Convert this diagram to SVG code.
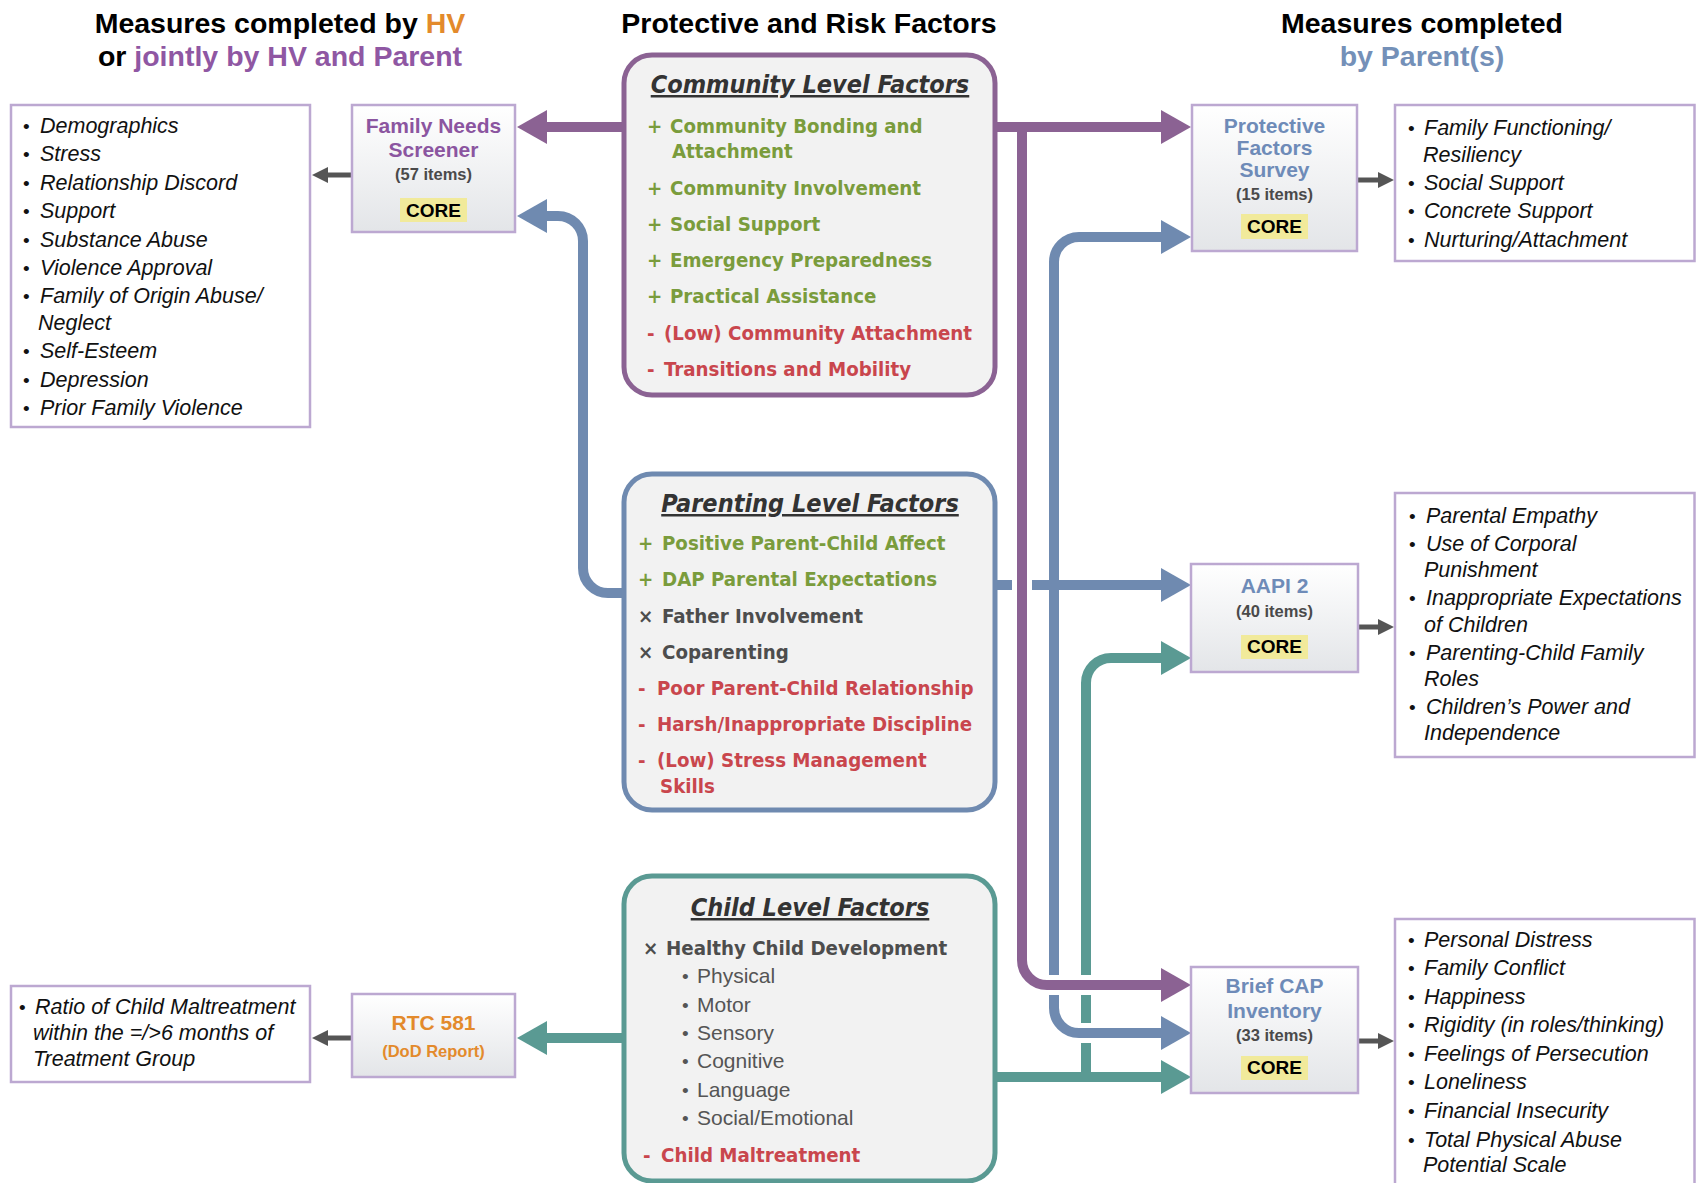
<svg xmlns="http://www.w3.org/2000/svg" width="1696" height="1183" viewBox="0 0 1696 1183">
<defs>
<linearGradient id="mgrad" x1="0" y1="0" x2="0" y2="1">
<stop offset="0" stop-color="#ffffff"/>
<stop offset="1" stop-color="#e3e5e8"/>
</linearGradient>
<marker id="ah-p" markerUnits="userSpaceOnUse" markerWidth="30" markerHeight="34" viewBox="0 0 30 34" refX="1" refY="17" orient="auto"><path d="M0,0 L30,17 L0,34 Z" fill="#8b6293"/></marker>
<marker id="ah-b" markerUnits="userSpaceOnUse" markerWidth="30" markerHeight="34" viewBox="0 0 30 34" refX="1" refY="17" orient="auto"><path d="M0,0 L30,17 L0,34 Z" fill="#6f8ab0"/></marker>
<marker id="ah-t" markerUnits="userSpaceOnUse" markerWidth="30" markerHeight="34" viewBox="0 0 30 34" refX="1" refY="17" orient="auto"><path d="M0,0 L30,17 L0,34 Z" fill="#5a9a93"/></marker>
<marker id="ah-g" markerUnits="userSpaceOnUse" markerWidth="16" markerHeight="16" viewBox="0 0 16 16" refX="1" refY="8" orient="auto"><path d="M0,0 L16,8 L0,16 Z" fill="#555555"/></marker>
</defs>
<style>
.title{font-family:"Liberation Sans",Arial,sans-serif;font-weight:bold;font-size:28.5px;fill:#000;text-anchor:middle}
.mbox{fill:url(#mgrad);stroke:#bca8d1;stroke-width:2.5}
.lbox{fill:#fff;stroke:#bca8d1;stroke-width:2.5}
.fbox{fill:#f2f2f2;stroke-width:5}
.mt{font-family:"Liberation Sans",Arial,sans-serif;font-weight:bold;font-size:21px;text-anchor:middle}
.mp{fill:#8b55a0}
.mb{fill:#6e8bb8}
.mo{fill:#e38a2c}
.items{font-family:"Liberation Sans",Arial,sans-serif;font-weight:bold;font-size:16.5px;fill:#4a4a4a;text-anchor:middle}
.core{fill:#f1ea9b}
.coret{font-family:"Liberation Sans",Arial,sans-serif;font-weight:bold;font-size:19px;fill:#000;text-anchor:middle}
.li{font-family:"Liberation Sans",Arial,sans-serif;font-style:italic;font-size:21.5px;fill:#111}
.bul{font-style:normal;font-size:19px}
.fh{font-family:"DejaVu Sans Condensed","DejaVu Sans",sans-serif;font-weight:bold;font-style:italic;font-size:25px;fill:#333;text-anchor:middle;text-decoration:underline}
.fi{font-family:"DejaVu Sans Condensed","DejaVu Sans",sans-serif;font-weight:bold;font-size:20.3px}
.g{fill:#7a9c3c}
.r{fill:#c9464d}
.x{fill:#4d4d4d}
.sub{font-family:"Liberation Sans",Arial,sans-serif;font-size:21px;fill:#555}
.cp{fill:none;stroke:#8b6293;stroke-width:10}
.cb{fill:none;stroke:#6f8ab0;stroke-width:10}
.ct{fill:none;stroke:#5a9a93;stroke-width:10}
.cg{fill:none;stroke:#555555;stroke-width:5}
</style>
<rect width="1696" height="1183" fill="#ffffff"/>

<g id="titles">
<text class="title" x="280" y="33">Measures completed by <tspan fill="#e38a2c">HV</tspan></text>
<text class="title" x="280" y="66">or <tspan fill="#8f57a3">jointly by HV and Parent</tspan></text>
<text class="title" x="809" y="33">Protective and Risk Factors</text>
<text class="title" x="1422" y="33">Measures completed</text>
<text class="title" x="1422" y="66" style="fill:#7490b8">by Parent(s)</text>
</g>

<g id="connectors">
<path class="ct" d="M624 1038 L546 1038" marker-end="url(#ah-t)"/>
<path class="ct" d="M995 1077 L1162 1077" marker-end="url(#ah-t)"/>
<path class="ct" d="M1086 1077 L1086 683 A25 25 0 0 1 1111 658 L1162 658" marker-end="url(#ah-t)"/>
<rect x="1076" y="1023" width="20" height="20" fill="#fff"/>
<path class="cb" d="M624 593 L608 593 A25 25 0 0 1 583 568 L583 241 A25 25 0 0 0 558 216 L546 216" marker-end="url(#ah-b)"/>
<path class="cb" d="M995 585 L1162 585" marker-end="url(#ah-b)"/>
<path class="cb" d="M1054 585 L1054 262 A25 25 0 0 1 1079 237 L1162 237" marker-end="url(#ah-b)"/>
<path class="cb" d="M1054 585 L1054 1008 A25 25 0 0 0 1079 1033 L1162 1033" marker-end="url(#ah-b)"/>
<rect x="1012" y="575" width="20" height="20" fill="#fff"/>
<rect x="1042" y="975" width="58" height="20" fill="#fff"/>
<path class="cp" d="M624 127 L546 127" marker-end="url(#ah-p)"/>
<path class="cp" d="M995 127 L1162 127" marker-end="url(#ah-p)"/>
<path class="cp" d="M1022 127 L1022 960 A25 25 0 0 0 1047 985 L1162 985" marker-end="url(#ah-p)"/>
<path class="cg" d="M352 175 L327 175" marker-end="url(#ah-g)"/>
<path class="cg" d="M352 1038 L327 1038" marker-end="url(#ah-g)"/>
<path class="cg" d="M1358 180 L1379 180" marker-end="url(#ah-g)"/>
<path class="cg" d="M1358 627 L1379 627" marker-end="url(#ah-g)"/>
<path class="cg" d="M1358 1041 L1379 1041" marker-end="url(#ah-g)"/>
</g>

<g id="list-fns">
<rect class="lbox" x="11" y="105" width="299" height="322"/>
<text class="li"><tspan class="bul" x="23" y="133">•</tspan><tspan x="40" y="133">Demographics</tspan></text>
<text class="li"><tspan class="bul" x="23" y="161">•</tspan><tspan x="40" y="161">Stress</tspan></text>
<text class="li"><tspan class="bul" x="23" y="190">•</tspan><tspan x="40" y="190">Relationship Discord</tspan></text>
<text class="li"><tspan class="bul" x="23" y="218">•</tspan><tspan x="40" y="218">Support</tspan></text>
<text class="li"><tspan class="bul" x="23" y="247">•</tspan><tspan x="40" y="247">Substance Abuse</tspan></text>
<text class="li"><tspan class="bul" x="23" y="275">•</tspan><tspan x="40" y="275">Violence Approval</tspan></text>
<text class="li"><tspan class="bul" x="23" y="303">•</tspan><tspan x="40" y="303">Family of Origin Abuse/</tspan></text>
<text class="li" x="38" y="330">Neglect</text>
<text class="li"><tspan class="bul" x="23" y="358">•</tspan><tspan x="40" y="358">Self-Esteem</tspan></text>
<text class="li"><tspan class="bul" x="23" y="387">•</tspan><tspan x="40" y="387">Depression</tspan></text>
<text class="li"><tspan class="bul" x="23" y="415">•</tspan><tspan x="40" y="415">Prior Family Violence</tspan></text>
</g>

<g id="fns">
<rect class="mbox" x="352" y="105" width="163" height="127"/>
<text class="mt mp" x="433.5" y="133">Family Needs</text>
<text class="mt mp" x="433.5" y="157">Screener</text>
<text class="items" x="433.5" y="180">(57 items)</text>
<rect class="core" x="400" y="198" width="67" height="24"/>
<text class="coret" x="433.5" y="217">CORE</text>
</g>

<g id="community">
<rect class="fbox" x="624" y="55" width="371" height="340" rx="28" stroke="#8b6293"/>
<text class="fh" x="810" y="93">Community Level Factors</text>
<text class="fi g"><tspan x="647" y="133">+</tspan><tspan x="670" y="133">Community Bonding and</tspan></text>
<text class="fi g" x="672" y="158">Attachment</text>
<text class="fi g"><tspan x="647" y="195">+</tspan><tspan x="670" y="195">Community Involvement</tspan></text>
<text class="fi g"><tspan x="647" y="231">+</tspan><tspan x="670" y="231">Social Support</tspan></text>
<text class="fi g"><tspan x="647" y="267">+</tspan><tspan x="670" y="267">Emergency Preparedness</tspan></text>
<text class="fi g"><tspan x="647" y="303">+</tspan><tspan x="670" y="303">Practical Assistance</tspan></text>
<text class="fi r"><tspan x="647" y="340">-</tspan><tspan x="664" y="340">(Low) Community Attachment</tspan></text>
<text class="fi r"><tspan x="647" y="376">-</tspan><tspan x="664" y="376">Transitions and Mobility</tspan></text>
</g>

<g id="pfs">
<rect class="mbox" x="1192" y="105" width="165" height="146"/>
<text class="mt mb" x="1274.5" y="133">Protective</text>
<text class="mt mb" x="1274.5" y="155">Factors</text>
<text class="mt mb" x="1274.5" y="177">Survey</text>
<text class="items" x="1274.5" y="200">(15 items)</text>
<rect class="core" x="1241" y="214" width="67" height="25"/>
<text class="coret" x="1274.5" y="233">CORE</text>
</g>

<g id="list-pfs">
<rect class="lbox" x="1395" y="105" width="299.5" height="156"/>
<text class="li"><tspan class="bul" x="1408" y="135">•</tspan><tspan x="1424" y="135">Family Functioning/</tspan></text>
<text class="li" x="1423" y="162">Resiliency</text>
<text class="li"><tspan class="bul" x="1408" y="190">•</tspan><tspan x="1424" y="190">Social Support</tspan></text>
<text class="li"><tspan class="bul" x="1408" y="218">•</tspan><tspan x="1424" y="218">Concrete Support</tspan></text>
<text class="li"><tspan class="bul" x="1408" y="247">•</tspan><tspan x="1424" y="247">Nurturing/Attachment</tspan></text>
</g>

<g id="parenting">
<rect class="fbox" x="624" y="474" width="371" height="336" rx="28" stroke="#6f8ab0"/>
<text class="fh" x="810" y="512">Parenting Level Factors</text>
<text class="fi g"><tspan x="638" y="550">+</tspan><tspan x="662" y="550">Positive Parent-Child Affect</tspan></text>
<text class="fi g"><tspan x="638" y="586">+</tspan><tspan x="662" y="586">DAP Parental Expectations</tspan></text>
<text class="fi x"><tspan x="638" y="623">×</tspan><tspan x="662" y="623">Father Involvement</tspan></text>
<text class="fi x"><tspan x="638" y="659">×</tspan><tspan x="662" y="659">Coparenting</tspan></text>
<text class="fi r"><tspan x="638" y="695">-</tspan><tspan x="657" y="695">Poor Parent-Child Relationship</tspan></text>
<text class="fi r"><tspan x="638" y="731">-</tspan><tspan x="657" y="731">Harsh/Inappropriate Discipline</tspan></text>
<text class="fi r"><tspan x="638" y="767">-</tspan><tspan x="657" y="767">(Low) Stress Management</tspan></text>
<text class="fi r" x="660" y="793">Skills</text>
</g>

<g id="aapi">
<rect class="mbox" x="1191" y="564" width="167" height="108"/>
<text class="mt mb" x="1274.5" y="593">AAPI 2</text>
<text class="items" x="1274.5" y="617">(40 items)</text>
<rect class="core" x="1241" y="635" width="67" height="24"/>
<text class="coret" x="1274.5" y="653">CORE</text>
</g>

<g id="list-aapi">
<rect class="lbox" x="1395" y="493" width="299.5" height="264"/>
<text class="li"><tspan class="bul" x="1409" y="523">•</tspan><tspan x="1426" y="523">Parental Empathy</tspan></text>
<text class="li"><tspan class="bul" x="1409" y="551">•</tspan><tspan x="1426" y="551">Use of Corporal</tspan></text>
<text class="li" x="1424" y="577">Punishment</text>
<text class="li"><tspan class="bul" x="1409" y="605">•</tspan><tspan x="1426" y="605">Inappropriate Expectations</tspan></text>
<text class="li" x="1424" y="632">of Children</text>
<text class="li"><tspan class="bul" x="1409" y="660">•</tspan><tspan x="1426" y="660">Parenting-Child Family</tspan></text>
<text class="li" x="1424" y="686">Roles</text>
<text class="li"><tspan class="bul" x="1409" y="714">•</tspan><tspan x="1426" y="714">Children’s Power and</tspan></text>
<text class="li" x="1424" y="740">Independence</text>
</g>

<g id="child">
<rect class="fbox" x="624" y="876" width="371" height="305" rx="28" stroke="#5a9a93"/>
<text class="fh" x="810" y="916">Child Level Factors</text>
<text class="fi x"><tspan x="643" y="955">×</tspan><tspan x="666" y="955">Healthy Child Development</tspan></text>
<text class="sub"><tspan class="bul" x="682" y="983">•</tspan><tspan x="697" y="983">Physical</tspan></text>
<text class="sub"><tspan class="bul" x="682" y="1012">•</tspan><tspan x="697" y="1012">Motor</tspan></text>
<text class="sub"><tspan class="bul" x="682" y="1040">•</tspan><tspan x="697" y="1040">Sensory</tspan></text>
<text class="sub"><tspan class="bul" x="682" y="1068">•</tspan><tspan x="697" y="1068">Cognitive</tspan></text>
<text class="sub"><tspan class="bul" x="682" y="1097">•</tspan><tspan x="697" y="1097">Language</tspan></text>
<text class="sub"><tspan class="bul" x="682" y="1125">•</tspan><tspan x="697" y="1125">Social/Emotional</tspan></text>
<text class="fi r"><tspan x="643" y="1162">-</tspan><tspan x="661" y="1162">Child Maltreatment</tspan></text>
</g>

<g id="rtc">
<rect class="mbox" x="352" y="994" width="163" height="83"/>
<text class="mt mo" x="433.5" y="1030">RTC 581</text>
<text class="items" x="433.5" y="1057" style="fill:#e38a2c">(DoD Report)</text>
</g>

<g id="list-rtc">
<rect class="lbox" x="11" y="986" width="299" height="96"/>
<text class="li"><tspan class="bul" x="19" y="1014">•</tspan><tspan x="35" y="1014">Ratio of Child Maltreatment</tspan></text>
<text class="li" x="33" y="1040">within the =/&gt;6 months of</text>
<text class="li" x="33" y="1066">Treatment Group</text>
</g>

<g id="bcap">
<rect class="mbox" x="1191" y="967" width="167" height="126"/>
<text class="mt mb" x="1274.5" y="993">Brief CAP</text>
<text class="mt mb" x="1274.5" y="1018">Inventory</text>
<text class="items" x="1274.5" y="1041">(33 items)</text>
<rect class="core" x="1241" y="1056" width="67" height="24"/>
<text class="coret" x="1274.5" y="1074">CORE</text>
</g>

<g id="list-bcap">
<rect class="lbox" x="1395" y="919" width="299.5" height="290"/>
<text class="li"><tspan class="bul" x="1408" y="947">•</tspan><tspan x="1424" y="947">Personal Distress</tspan></text>
<text class="li"><tspan class="bul" x="1408" y="975">•</tspan><tspan x="1424" y="975">Family Conflict</tspan></text>
<text class="li"><tspan class="bul" x="1408" y="1004">•</tspan><tspan x="1424" y="1004">Happiness</tspan></text>
<text class="li"><tspan class="bul" x="1408" y="1032">•</tspan><tspan x="1424" y="1032">Rigidity (in roles/thinking)</tspan></text>
<text class="li"><tspan class="bul" x="1408" y="1061">•</tspan><tspan x="1424" y="1061">Feelings of Persecution</tspan></text>
<text class="li"><tspan class="bul" x="1408" y="1089">•</tspan><tspan x="1424" y="1089">Loneliness</tspan></text>
<text class="li"><tspan class="bul" x="1408" y="1118">•</tspan><tspan x="1424" y="1118">Financial Insecurity</tspan></text>
<text class="li"><tspan class="bul" x="1408" y="1147">•</tspan><tspan x="1424" y="1147">Total Physical Abuse</tspan></text>
<text class="li" x="1423" y="1172">Potential Scale</text>
</g>
</svg>
